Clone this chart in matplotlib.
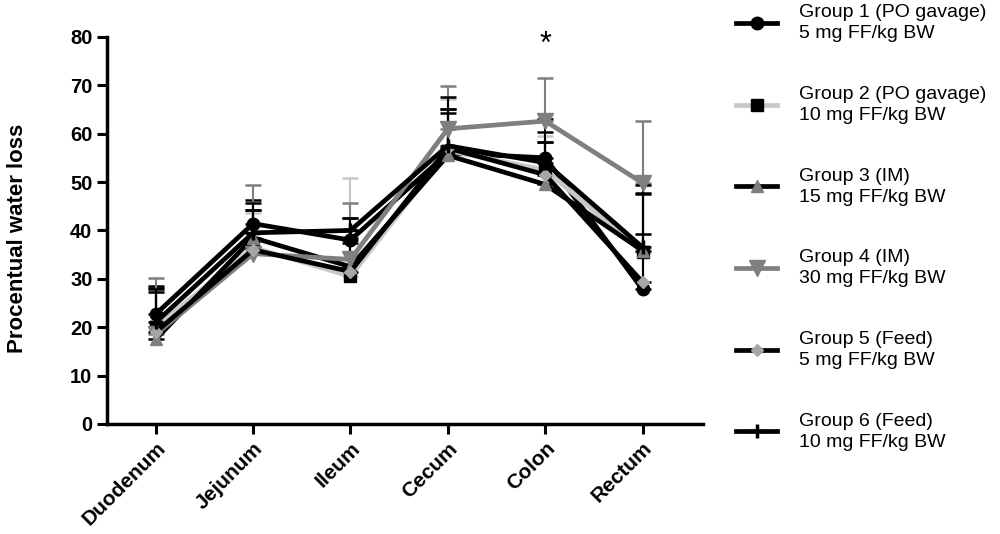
import numpy as np
import matplotlib
matplotlib.use("Agg")
import matplotlib.pyplot as plt

plt.rcParams['font.family'] = ['Liberation Sans', 'DejaVu Sans']

segments = ["Duodenum", "Jejunum", "Ileum", "Cecum", "Colon", "Rectum"]

labels = ["Group 1 (PO gavage)\n5 mg FF/kg BW",
          "Group 2 (PO gavage)\n10 mg FF/kg BW",
          "Group 3 (IM)\n15 mg FF/kg BW",
          "Group 4 (IM)\n30 mg FF/kg BW",
          "Group 5 (Feed)\n5 mg FF/kg BW",
          "Group 6 (Feed)\n10 mg FF/kg BW"]

# mean values
g1 = [22.7, 41.4, 38.0, 56.0, 55.0, 27.8]
g2 = [20.0, 36.5, 30.5, 56.5, 52.5, 35.5]
g3 = [17.5, 38.5, 32.5, 55.5, 49.5, 35.8]
g4 = [18.5, 35.2, 34.0, 61.0, 62.6, 49.8]
g5 = [19.0, 36.0, 31.5, 57.0, 51.5, 29.3]
g6 = [21.0, 39.5, 40.0, 57.5, 54.0, 36.5]

# upper error (SD)
e1 = [5.8, 4.9, 4.6, 9.0, 8.0, 20.0]
e2 = [7.3, 7.0, 20.3, 10.6, 7.0, 3.8]
e3 = [10.6, 5.8, 5.0, 9.5, 8.8, 3.5]
e4 = [11.7, 14.2, 11.7, 8.8, 8.9, 12.8]
e5 = [8.3, 8.2, 7.0, 7.2, 6.8, 20.1]
e6 = [6.8, 6.2, 2.6, 10.0, 6.3, 11.1]

means = [g1, g2, g3, g4, g5, g6]
errs = [e1, e2, e3, e4, e5, e6]
line_colors = ["black", "#c8c8c8", "black", "#7f7f7f", "black", "black"]
marker_colors = ["black", "black", "#7f7f7f", "#7f7f7f", "#a6a6a6", "black"]
markers = ["o", "s", "^", "v", "D", "+"]
msizes = [9, 8, 9, 11, 6, 10]

fig = plt.figure(figsize=(10, 5.34), dpi=100)
ax = fig.add_axes([0.107, 0.206, 0.596, 0.725])

x = np.arange(len(segments))
for i in range(6):
    m = np.array(means[i])
    e = np.array(errs[i])
    ax.errorbar(x, m, yerr=[np.zeros_like(e), e], fmt='none',
                ecolor=line_colors[i], elinewidth=1.5, capsize=6, capthick=1.8,
                zorder=2)
for i in range(6):
    ax.plot(x, means[i], color=line_colors[i], lw=3.4, marker=markers[i],
            ms=msizes[i], mfc=marker_colors[i], mec=marker_colors[i],
            mew=2.5 if markers[i] == "+" else 1, label=labels[i], zorder=3)

ax.text(4, 78.3, "*", ha='center', va='center', fontsize=22)

ax.set_xlim(-0.5, 5.62)
ax.set_ylim(0, 80)
ax.set_yticks(np.arange(0, 81, 10))
ax.set_xticks(x)
ax.set_xticklabels(segments, rotation=45, ha='right', rotation_mode='anchor',
                   fontsize=15, fontweight='bold')
for t in ax.get_yticklabels():
    t.set_fontsize(14.5)
    t.set_fontweight('bold')
ax.set_ylabel("Procentual water loss", fontsize=16, fontweight='bold')
ax.yaxis.set_label_coords(-0.132, 0.48)

for s in ["top", "right"]:
    ax.spines[s].set_visible(False)
for s in ["left", "bottom"]:
    ax.spines[s].set_linewidth(2.5)
ax.tick_params(width=2.2, length=7)

leg = ax.legend(loc='upper left', bbox_to_anchor=(1.043, 1.104), frameon=False,
                fontsize=14, handlelength=2.1, labelspacing=2.25,
                handletextpad=1.1, borderaxespad=0)
for t in leg.get_texts():
    t.set_linespacing(1.3)

fig.savefig("out.png", dpi=100)
